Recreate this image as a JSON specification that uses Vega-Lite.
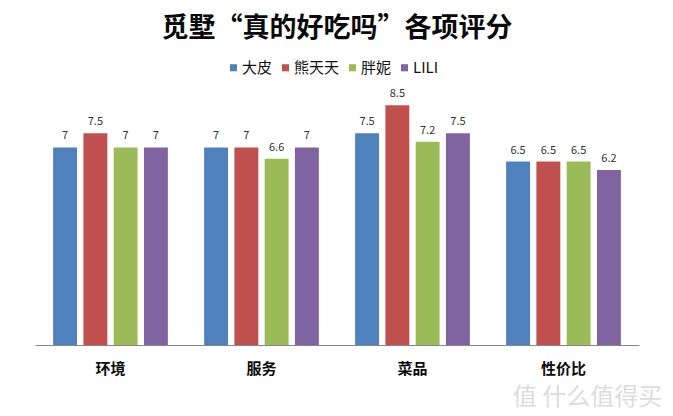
{
"$schema":"https://vega.github.io/schema/vega-lite/v6.json",
"width":604,"height":285,
"autosize":{"type":"none"},
"padding":{"left":35,"top":60,"right":34,"bottom":71},
"background":"white",
"title":{"text":"觅墅“真的好吃吗”各项评分","anchor":"middle","font":"Noto Sans CJK SC","fontSize":27,"fontWeight":"bold","color":"#0a0a0a","baseline":"middle","offset":4},
"config":{"view":{"stroke":null},"font":"Noto Sans CJK SC"},
"data":{"values":[
{"c":"环境","s":"大皮","v":7},{"c":"环境","s":"熊天天","v":7.5},{"c":"环境","s":"胖妮","v":7},{"c":"环境","s":"LILI","v":7},
{"c":"服务","s":"大皮","v":7},{"c":"服务","s":"熊天天","v":7},{"c":"服务","s":"胖妮","v":6.6},{"c":"服务","s":"LILI","v":7},
{"c":"菜品","s":"大皮","v":7.5},{"c":"菜品","s":"熊天天","v":8.5},{"c":"菜品","s":"胖妮","v":7.2},{"c":"菜品","s":"LILI","v":7.5},
{"c":"性价比","s":"大皮","v":6.5},{"c":"性价比","s":"熊天天","v":6.5},{"c":"性价比","s":"胖妮","v":6.5},{"c":"性价比","s":"LILI","v":6.2}
]},
"encoding":{
"x":{"field":"c","type":"nominal","sort":["环境","服务","菜品","性价比"],
"scale":{"paddingInner":0.24,"paddingOuter":0.12},
"axis":{"title":"值 什么值得买","titleColor":"#dcdcdc","titleFontSize":24,"titleFontWeight":"normal","titleX":552,"titleY":40,"labelAngle":0,"labelFontSize":15,"labelFontWeight":"bold","labelColor":"#0a0a0a","labelPadding":16,"ticks":false,"domainColor":"#868686","domainWidth":1,"grid":false}},
"xOffset":{"field":"s","type":"nominal","sort":["大皮","熊天天","胖妮","LILI"],"scale":{"paddingInner":0.21,"paddingOuter":0}},
"y":{"field":"v","type":"quantitative","scale":{"domain":[0,10.1],"nice":false},"axis":null}
},
"layer":[
{"mark":{"type":"bar"},"encoding":{"color":{"field":"s","type":"nominal","sort":["大皮","熊天天","胖妮","LILI"],
"scale":{"domain":["大皮","熊天天","胖妮","LILI"],"range":["#4f81bd","#c0504d","#9bbb59","#8064a2"]},
"legend":{"title":null,"orient":"none","direction":"horizontal","columns":4,"legendX":191,"legendY":0,"symbolType":"square","symbolSize":50,"symbolStrokeWidth":0,"labelFontSize":15,"labelColor":"#111","labelOffset":1,"columnPadding":5}}}},
{"mark":{"type":"text","baseline":"bottom","dy":-6,"fontSize":11,"color":"#333"},"encoding":{"text":{"field":"v","type":"quantitative"}}}
]
}
